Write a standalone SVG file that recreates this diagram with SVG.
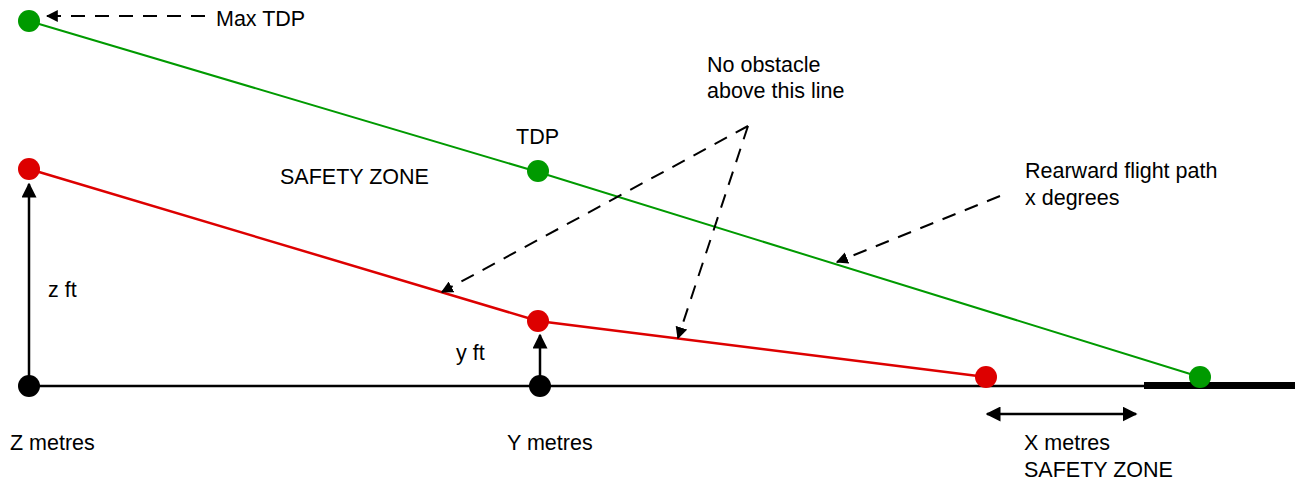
<svg xmlns="http://www.w3.org/2000/svg" width="1298" height="481" viewBox="0 0 1298 481">
<defs>
<marker id="ah" viewBox="0 0 10 10" refX="9" refY="5" markerWidth="12" markerHeight="12" markerUnits="userSpaceOnUse" orient="auto-start-reverse">
<path d="M0,0 L10,5 L0,10 Z" fill="#000"/>
</marker>
<marker id="ahs" viewBox="0 0 10 10" refX="9" refY="5" markerWidth="15" markerHeight="15" markerUnits="userSpaceOnUse" orient="auto-start-reverse">
<path d="M0,0 L10,5 L0,10 Z" fill="#000"/>
</marker>
</defs>
<style>
text{font-family:"Liberation Sans",Arial,sans-serif;font-size:21.5px;fill:#000}
.dash{fill:none;stroke:#000;stroke-width:2;stroke-dasharray:14,10;marker-end:url(#ah)}
.solid{fill:none;stroke:#000;stroke-width:2.5}
.g{fill:#009a00}
.r{fill:#dd0000}
.k{fill:#000}
</style>
<rect width="1298" height="481" fill="#fff"/>
<g id="connectors">
<line x1="29" y1="386" x2="1144" y2="386" stroke="#000" stroke-width="2.5"/>
<line x1="1144" y1="385.5" x2="1295" y2="385.5" stroke="#000" stroke-width="7"/>
<polyline points="29,21 538,172 1200,377" fill="none" stroke="#009a00" stroke-width="2"/>
<polyline points="29,169 538,321 986,377" fill="none" stroke="#dd0000" stroke-width="2.5"/>
<line class="solid" x1="29" y1="386" x2="29" y2="184" marker-end="url(#ahs)"/>
<line class="solid" x1="540" y1="386" x2="540" y2="335" marker-end="url(#ahs)"/>
<line class="solid" x1="987" y1="414" x2="1136" y2="414" marker-start="url(#ahs)" marker-end="url(#ahs)"/>
<line class="dash" x1="205" y1="16" x2="47" y2="16"/>
<line class="dash" x1="748" y1="126" x2="442" y2="292"/>
<line class="dash" x1="748" y1="126" x2="678" y2="338"/>
<line class="dash" x1="1000" y1="196" x2="837" y2="262"/>
</g>
<g id="dot-maxtdp"><circle class="g" cx="29" cy="21" r="11"/></g>
<g id="dot-tdp"><circle class="g" cx="538" cy="171" r="11"/></g>
<g id="dot-end"><circle class="g" cx="1200" cy="377" r="11"/></g>
<g id="dot-z"><circle class="r" cx="29" cy="169" r="11"/></g>
<g id="dot-y"><circle class="r" cx="538" cy="321" r="11"/></g>
<g id="dot-x"><circle class="r" cx="986" cy="377" r="11"/></g>
<g id="dot-zbase"><circle class="k" cx="29" cy="386" r="11"/></g>
<g id="dot-ybase"><circle class="k" cx="540" cy="386" r="11"/></g>
<g id="labels">
<text x="216" y="26">Max TDP</text>
<text x="707" y="72">No obstacle</text>
<text x="707" y="98">above this line</text>
<text x="516" y="144">TDP</text>
<text x="280" y="184">SAFETY ZONE</text>
<text x="1025" y="178">Rearward flight path</text>
<text x="1025" y="205">x degrees</text>
<text x="48" y="297">z ft</text>
<text x="456" y="360">y ft</text>
<text x="10" y="450">Z metres</text>
<text x="507" y="450">Y metres</text>
<text x="1024" y="450">X metres</text>
<text x="1024" y="477">SAFETY ZONE</text>
</g>
</svg>
